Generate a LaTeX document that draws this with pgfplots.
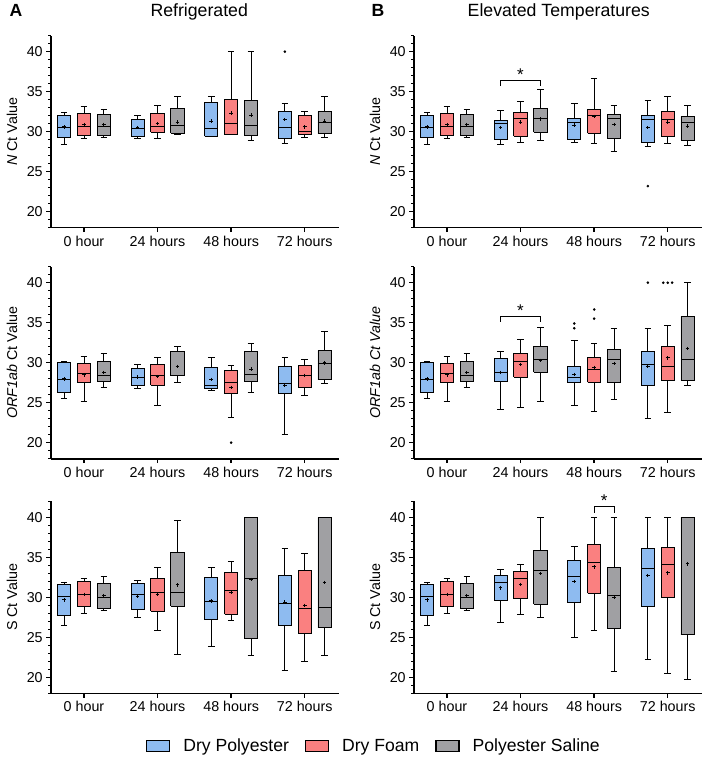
\documentclass[border=0pt]{standalone}
\usepackage{fontspec}
\setmainfont{Liberation Sans}
\usepackage{pgfplots}
\pgfplotsset{compat=1.18}
\definecolor{cblue}{RGB}{142,187,240}
\definecolor{cred}{RGB}{250,128,128}
\definecolor{cgray}{RGB}{160,160,163}

% pos, colour, lower whisker, lower quartile, median, upper quartile, upper whisker, mean
\newcommand{\BX}[8]{%
\pgfmathsetmacro\BXl{#1-0.09}\pgfmathsetmacro\BXr{#1+0.09}%
\pgfmathsetmacro\BXcl{#1-0.045}\pgfmathsetmacro\BXcr{#1+0.045}%
\addplot[black, line width=0.9pt] coordinates {(#1,#6) (#1,#7)};
\addplot[black, line width=0.9pt] coordinates {(#1,#4) (#1,#3)};
\addplot[black, line width=0.9pt] coordinates {(\BXcl,#7) (\BXcr,#7)};
\addplot[black, line width=0.9pt] coordinates {(\BXcl,#3) (\BXcr,#3)};
\addplot[fill=#2, draw=black, line width=0.9pt, line join=miter] coordinates {(\BXl,#4) (\BXr,#4) (\BXr,#6) (\BXl,#6) (\BXl,#4)};
\addplot[black, line width=1.1pt] coordinates {(\BXl,#5) (\BXr,#5)};
\addplot[only marks, mark=+, mark size=1.8pt, mark options={black, line width=0.9pt}] coordinates {(#1,#8)};
}
\newcommand{\OUT}[1]{\addplot[only marks, mark=*, mark size=1.1pt, black] coordinates {#1};}

\pgfplotsset{
  myax/.style={
    scale only axis, width=288.6pt, height=192pt,
    xmin=-0.452, xmax=3.47, ymin=18, ymax=42,
    axis x line*=bottom, axis y line*=left,
    axis line style={black, line width=1.6pt, -},
    xtick={0,1,2,3}, xticklabels={0 hour,24 hours,48 hours,72 hours},
    ytick={20,25,30,35,40}, minor ytick={18,19,...,42},
    tick align=outside, major tick length=4.5pt, minor tick length=2.5pt,
    major tick style={black, line width=1.3pt}, minor tick style={black, line width=1pt},
    tick label style={font=\fontsize{14.3}{16}\selectfont},
    /pgf/number format/assume math mode=true,
    every axis y label/.style={at={(axis description cs:-0.134,0.5)}, rotate=90, anchor=center, font=\fontsize{14.3}{16}\selectfont},
    clip=false,
  }
}
\newcommand{\ZERON}{%
\BX{-0.27}{cblue}{28.4}{29.3}{30.5}{32.0}{32.4}{30.6}
\BX{0}{cred}{29.15}{29.5}{30.6}{32.3}{33.1}{30.9}
\BX{0.27}{cgray}{29.3}{29.5}{30.6}{32.1}{32.8}{30.9}}
\newcommand{\ZEROORF}{%
\BX{-0.27}{cblue}{25.5}{26.3}{27.9}{30.0}{30.2}{28.0}
\BX{0}{cred}{25.2}{27.55}{28.6}{29.9}{30.8}{28.5}
\BX{0.27}{cgray}{26.9}{27.7}{28.4}{30.2}{31.15}{28.8}}
\newcommand{\ZEROS}{%
\BX{-0.27}{cblue}{26.5}{27.7}{30.05}{31.55}{31.9}{29.7}
\BX{0}{cred}{28.0}{28.9}{30.35}{31.95}{32.35}{30.35}
\BX{0.27}{cgray}{28.35}{28.55}{30.0}{31.75}{32.55}{30.2}}

\begin{document}
\begin{tikzpicture}
\useasboundingbox (0pt,0pt) rectangle (705pt,-759pt);
\node[font=\bfseries\fontsize{17.6}{20}\selectfont, anchor=base west] at (6pt,-16.3pt) {A};
\node[font=\bfseries\fontsize{17.6}{20}\selectfont, anchor=base west] at (368pt,-16.3pt) {B};
\node[font=\fontsize{17.7}{20}\selectfont, anchor=base] at (199.2pt,-16.3pt) {Refrigerated};
\node[font=\fontsize{17.7}{20}\selectfont, anchor=base] at (558.7pt,-16.3pt) {Elevated Temperatures};

% ---------- A : N ----------
\begin{axis}[myax, at={(50.7pt,-35.7pt)}, anchor=north west, ylabel={\textit{N} Ct Value}]
\ZERON
\BX{0.73}{cblue}{29.15}{29.4}{30.4}{31.55}{32.05}{30.5}
\BX{1}{cred}{29.15}{29.9}{30.6}{32.3}{33.3}{31.0}
\BX{1.27}{cgray}{29.7}{29.8}{30.8}{32.9}{34.4}{31.2}
\BX{1.73}{cblue}{29.4}{29.4}{30.4}{33.6}{34.4}{31.3}
\BX{2}{cred}{29.6}{29.6}{31.0}{34.0}{40}{32.3}
\BX{2.27}{cgray}{28.9}{29.5}{30.8}{33.85}{40}{32.05}
\BX{2.73}{cblue}{28.5}{29.2}{30.5}{32.5}{33.5}{31.5}
\BX{3}{cred}{29.3}{29.6}{30.05}{32.05}{32.5}{30.6}
\BX{3.27}{cgray}{29.3}{29.8}{31.2}{32.5}{34.4}{31.3}
\OUT{(2.73,40)}
\end{axis}

% ---------- B : N ----------
\begin{axis}[myax, at={(413.7pt,-35.7pt)}, anchor=north west, ylabel={\textit{N} Ct Value}]
\ZERON
\BX{0.73}{cblue}{28.4}{29.0}{31.0}{31.4}{32.7}{30.5}
\BX{1}{cred}{28.65}{29.4}{31.6}{32.4}{33.75}{31.2}
\BX{1.27}{cgray}{28.9}{29.9}{31.6}{32.9}{35.3}{31.6}
\BX{1.73}{cblue}{28.65}{29.0}{31.2}{31.7}{33.5}{30.8}
\BX{2}{cred}{28.55}{29.8}{32.05}{32.8}{36.6}{31.9}
\BX{2.27}{cgray}{27.5}{29.15}{31.65}{32.1}{33.3}{30.9}
\BX{2.73}{cblue}{28.1}{28.65}{31.55}{32.05}{33.9}{30.5}
\BX{3}{cred}{28.5}{29.4}{31.5}{32.55}{34.45}{31.2}
\BX{3.27}{cgray}{28.3}{28.9}{31.2}{31.9}{33.3}{30.7}
\OUT{(2.73,23.2)}
\draw[line width=1pt] (axis cs:0.73,35.7) -- (axis cs:0.73,36.4) -- (axis cs:1.27,36.4) -- (axis cs:1.27,35.7);
\node[font=\fontsize{17}{18}\selectfont, anchor=base] at (axis cs:1,36.4) {*};
\end{axis}

% ---------- A : ORF1ab ----------
\begin{axis}[myax, at={(50.7pt,-266.7pt)}, anchor=north west, ylabel={\textit{ORF1ab} Ct Value}]
\ZEROORF
\BX{0.73}{cblue}{26.75}{27.1}{28.15}{29.3}{29.8}{28.2}
\BX{1}{cred}{24.7}{27.2}{28.4}{29.8}{30.6}{28.3}
\BX{1.27}{cgray}{27.5}{28.35}{28.35}{31.4}{32.0}{29.55}
\BX{1.73}{cblue}{26.55}{26.75}{27.1}{29.35}{30.65}{27.9}
\BX{2}{cred}{23.1}{26.1}{27.55}{29.0}{29.7}{26.9}
\BX{2.27}{cgray}{26.3}{27.6}{28.5}{31.35}{32.4}{29.2}
\BX{2.73}{cblue}{21.0}{26.1}{27.35}{29.5}{30.65}{27.2}
\BX{3}{cred}{25.9}{26.9}{28.35}{29.7}{30.4}{28.4}
\BX{3.27}{cgray}{27.4}{27.9}{29.95}{31.5}{33.85}{30.0}
\OUT{(2,20.0)}
\end{axis}

% ---------- B : ORF1ab ----------
\begin{axis}[myax, at={(413.7pt,-266.7pt)}, anchor=north west, ylabel={\textit{ORF1ab Ct Value}}]
\ZEROORF
\BX{0.73}{cblue}{24.1}{27.7}{28.8}{30.5}{31.35}{28.8}
\BX{1}{cred}{24.4}{28.2}{30.2}{31.1}{32.9}{29.8}
\BX{1.27}{cgray}{25.1}{28.8}{30.45}{32.05}{34.35}{30.3}
\BX{1.73}{cblue}{24.6}{27.5}{28.15}{29.5}{32.8}{28.55}
\BX{2}{cred}{23.9}{27.55}{29.15}{30.6}{32.4}{29.4}
\BX{2.27}{cgray}{25.4}{27.55}{30.4}{31.65}{34.25}{29.9}
\BX{2.73}{cblue}{23.0}{27.2}{29.8}{31.35}{34.3}{29.55}
\BX{3}{cred}{23.8}{27.75}{29.55}{32.0}{34.7}{30.6}
\BX{3.27}{cgray}{27.15}{27.75}{30.35}{35.8}{40}{31.8}
\OUT{(1.73,34.3) (1.73,34.9) (2,35.5) (2,36.65) (2.73,40) (2.94,40) (3,40) (3.06,40)}
\draw[line width=1pt] (axis cs:0.73,35.1) -- (axis cs:0.73,35.8) -- (axis cs:1.27,35.8) -- (axis cs:1.27,35.1);
\node[font=\fontsize{17}{18}\selectfont, anchor=base] at (axis cs:1,35.8) {*};
\end{axis}

% ---------- A : S ----------
\begin{axis}[myax, at={(50.7pt,-501.3pt)}, anchor=north west, ylabel={S Ct Value},
  legend style={at={(axis description cs:1.12,-0.276)}, anchor=center, draw=none, fill=none,
    legend columns=3, font=\fontsize{17.6}{20}\selectfont,
    /tikz/every odd column/.append style={column sep=11pt},
    /tikz/every even column/.append style={column sep=14pt}},
  legend cell align=left]
\addlegendimage{legend image code/.code={\draw[fill=cblue,draw=black,line width=1.2pt] (0pt,-5.5pt) rectangle (23pt,5.5pt);}}
\addlegendentry{Dry Polyester}
\addlegendimage{legend image code/.code={\draw[fill=cred,draw=black,line width=1.2pt] (0pt,-5.5pt) rectangle (23pt,5.5pt);}}
\addlegendentry{Dry Foam}
\addlegendimage{legend image code/.code={\draw[fill=cgray,draw=black,line width=1.2pt] (0pt,-5.5pt) rectangle (23pt,5.5pt);}}
\addlegendentry{Polyester Saline}
\ZEROS
\BX{0.73}{cblue}{27.5}{28.5}{30.4}{31.75}{32.05}{30.15}
\BX{1}{cred}{25.9}{28.25}{30.6}{32.35}{33.75}{30.4}
\BX{1.27}{cgray}{22.9}{28.9}{30.6}{35.6}{39.6}{31.55}
\BX{1.73}{cblue}{23.9}{27.2}{29.5}{32.5}{33.75}{29.55}
\BX{2}{cred}{27.05}{27.9}{30.8}{33.15}{34.5}{30.65}
\BX{2.27}{cgray}{22.7}{24.8}{32.35}{40}{40}{32.25}
\BX{2.73}{cblue}{20.9}{26.5}{29.2}{32.75}{36.15}{29.4}
\BX{3}{cred}{22.0}{25.5}{28.6}{33.4}{35.5}{29.0}
\BX{3.27}{cgray}{22.7}{26.2}{28.75}{40}{40}{31.85}
\end{axis}

% ---------- B : S ----------
\begin{axis}[myax, at={(413.7pt,-501.3pt)}, anchor=north west, ylabel={S Ct Value}]
\ZEROS
\BX{0.73}{cblue}{26.9}{29.55}{31.8}{32.7}{33.5}{31.2}
\BX{1}{cred}{27.85}{29.8}{32.35}{33.2}{34.05}{31.6}
\BX{1.27}{cgray}{27.5}{29.15}{33.3}{35.9}{40}{33.0}
\BX{1.73}{cblue}{25.0}{29.35}{32.65}{34.55}{36.3}{32.0}
\BX{2}{cred}{25.9}{30.5}{34.36}{36.6}{40}{33.8}
\BX{2.27}{cgray}{20.7}{26.1}{30.2}{33.75}{40}{30.0}
\BX{2.73}{cblue}{22.25}{28.9}{33.6}{36.1}{40}{32.75}
\BX{3}{cred}{20.5}{30.0}{34.1}{36.25}{40}{33.05}
\BX{3.27}{cgray}{19.7}{25.3}{40}{40}{40}{34.2}
\draw[line width=1pt] (axis cs:2,40.6) -- (axis cs:2,41.3) -- (axis cs:2.27,41.3) -- (axis cs:2.27,40.6);
\node[font=\fontsize{17}{18}\selectfont, anchor=base] at (axis cs:2.135,41.3) {*};
\end{axis}
\end{tikzpicture}
\end{document}
